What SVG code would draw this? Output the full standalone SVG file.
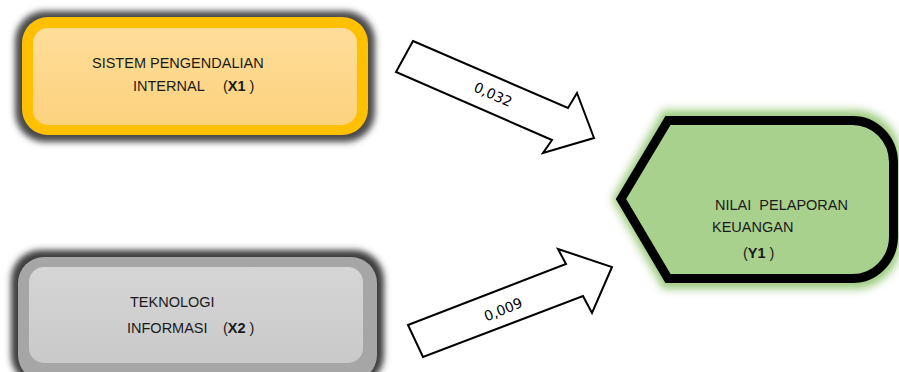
<svg xmlns="http://www.w3.org/2000/svg" width="899" height="372" viewBox="0 0 899 372">
<style>
.t{font-family:"Liberation Sans",Arial,sans-serif;font-size:14.5px;fill:#1a1a1a;white-space:pre}
.b{font-weight:bold}
.lbl{font-family:"DejaVu Sans",Verdana,sans-serif;font-size:14px;fill:#000}
.arrow{fill:#fff;stroke:#000;stroke-width:2;stroke-linejoin:miter}
</style>
<defs>
<filter id="sh" x="-10%" y="-20%" width="120%" height="140%"><feGaussianBlur stdDeviation="3"/></filter>
<filter id="glow" x="-10%" y="-10%" width="120%" height="120%"><feGaussianBlur stdDeviation="4"/></filter>
<linearGradient id="yg" x1="0" y1="0" x2="0" y2="1"><stop offset="0" stop-color="#FFDD99"/><stop offset="1" stop-color="#FCD27E"/></linearGradient>
<linearGradient id="gg" x1="0" y1="0" x2="0" y2="1"><stop offset="0" stop-color="#D6D6D6"/><stop offset="1" stop-color="#C9C9C9"/></linearGradient>
</defs>
<g id="x1">
<rect x="15" y="11" width="360" height="131" rx="30" fill="#4a4a4a" filter="url(#sh)"/>
<rect x="22" y="17" width="346" height="118" rx="26" fill="#FFC000"/>
<rect x="33" y="28" width="324" height="97" rx="15" fill="url(#yg)"/>
<text class="t" x="92" y="68">SISTEM PENGENDALIAN</text>
<text class="t" x="133" y="91">INTERNAL<tspan x="223">(</tspan><tspan class="b">X1</tspan> )</text>
</g>
<g id="x2">
<rect x="11" y="250" width="373" height="135" rx="30" fill="#3e3e3e" filter="url(#sh)"/>
<rect x="18" y="257" width="359" height="124" rx="26" fill="#A6A6A6"/>
<rect x="29" y="267" width="334" height="96" rx="15" fill="url(#gg)"/>
<text class="t" x="130" y="307">TEKNOLOGI</text>
<text class="t" x="127" y="333">INFORMASI<tspan x="223">(</tspan><tspan class="b">X2</tspan> )</text>
</g>
<g id="y1">
<path d="M612,199 L663,110 L855,110 A46,48 0 0 1 901,158 L901,240 A46,48 0 0 1 855,289 L663,289 Z" fill="#9CCB7E" filter="url(#glow)"/>
<path d="M621,199 L668,120.5 L852,120.5 A41,42 0 0 1 893.5,162 L893.5,237 A41,42 0 0 1 852,278.5 L668,278.5 Z" fill="#A9D18E" stroke="#000" stroke-width="9" stroke-linejoin="miter"/>
<text class="t" x="715" y="210">NILAI  PELAPORAN</text>
<text class="t" x="712" y="232">KEUANGAN</text>
<text class="t" x="743" y="258">(<tspan class="b">Y1</tspan> )</text>
</g>
<g id="connectors">
<path class="arrow" d="M413,41 L568,108 L577,93 L594,138 L543,153 L552,140 L396,72 Z"/>
<text class="lbl" transform="translate(491,99) rotate(24)" text-anchor="middle">0,032</text>
<path class="arrow" d="M408,325 L566,264 L558,249 L612,267 L592,313 L583,296 L423,357 Z"/>
<text class="lbl" transform="translate(505,314) rotate(-22)" text-anchor="middle">0,009</text>
</g>
</svg>
